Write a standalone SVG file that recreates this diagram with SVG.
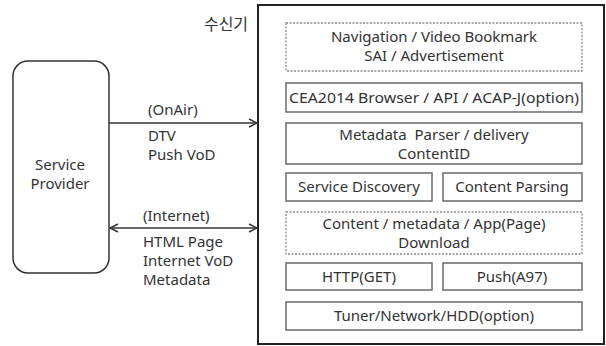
<svg xmlns="http://www.w3.org/2000/svg" width="606" height="346" viewBox="0 0 606 346">
<style>
text{font-family:"Noto Sans","Noto Sans CJK KR",sans-serif;font-size:15px;fill:#333;text-anchor:middle}
.l{text-anchor:start}
.box{fill:#fff;stroke:#6a6a6a;stroke-width:1.5}
.dot{fill:#fff;stroke:#8a8a8a;stroke-width:1.3;stroke-dasharray:2 1.5}
.edge{stroke:#333;stroke-width:1.5;fill:none}
</style>
<defs>
<marker id="ah" viewBox="0 0 10 10" refX="9" refY="5" markerWidth="10" markerHeight="10" markerUnits="userSpaceOnUse" orient="auto-start-reverse">
<path d="M1,1 L9,5 L1,9" fill="none" stroke="#333" stroke-width="1.5"/>
</marker>
</defs>
<rect width="606" height="346" fill="#fff"/>
<g id="receiver">
<rect x="258" y="5" width="346" height="339" fill="#fff" stroke="#222" stroke-width="2"/>
<text x="226" y="30" style="font-size:16px">수신기</text>
</g>
<g id="provider">
<rect x="13" y="61" width="96" height="212" rx="15" fill="#fff" stroke="#333" stroke-width="1.5"/>
<text x="60" y="170">Service</text>
<text x="60" y="189">Provider</text>
</g>
<g id="nav">
<rect class="dot" x="286" y="23" width="296" height="48"/>
<text x="434" y="42">Navigation / Video Bookmark</text>
<text x="434" y="61">SAI / Advertisement</text>
</g>
<g id="cea">
<rect class="box" x="286" y="83" width="296" height="29"/>
<text x="434" y="103" textLength="290" lengthAdjust="spacingAndGlyphs">CEA2014 Browser / API / ACAP-J(option)</text>
</g>
<g id="meta">
<rect class="box" x="286" y="123" width="296" height="41"/>
<text x="434" y="140">Metadata&#160; Parser / delivery</text>
<text x="434" y="159">ContentID</text>
</g>
<g id="sd">
<rect class="box" x="286" y="173" width="146" height="28"/>
<text x="359" y="192">Service Discovery</text>
</g>
<g id="cp">
<rect class="box" x="443" y="173" width="139" height="28"/>
<text x="512" y="192">Content Parsing</text>
</g>
<g id="dl">
<rect class="dot" x="286" y="212" width="296" height="42"/>
<text x="434" y="229">Content / metadata / App(Page)</text>
<text x="434" y="248">Download</text>
</g>
<g id="http">
<rect class="box" x="286" y="263" width="146" height="27"/>
<text x="359" y="282">HTTP(GET)</text>
</g>
<g id="push">
<rect class="box" x="443" y="263" width="139" height="27"/>
<text x="512" y="282">Push(A97)</text>
</g>
<g id="tuner">
<rect class="box" x="286" y="302" width="296" height="28"/>
<text x="434" y="321">Tuner/Network/HDD(option)</text>
</g>
<g id="connectors">
<line class="edge" x1="109" y1="123" x2="257" y2="123" marker-end="url(#ah)"/>
<line class="edge" x1="110" y1="228" x2="257" y2="228" marker-start="url(#ah)" marker-end="url(#ah)"/>
<text class="l" x="148" y="115">(OnAir)</text>
<text class="l" x="148" y="141">DTV</text>
<text class="l" x="148" y="160">Push VoD</text>
<text class="l" x="143" y="221">(Internet)</text>
<text class="l" x="143" y="247">HTML Page</text>
<text class="l" x="143" y="266">Internet VoD</text>
<text class="l" x="143" y="285">Metadata</text>
</g>
</svg>
